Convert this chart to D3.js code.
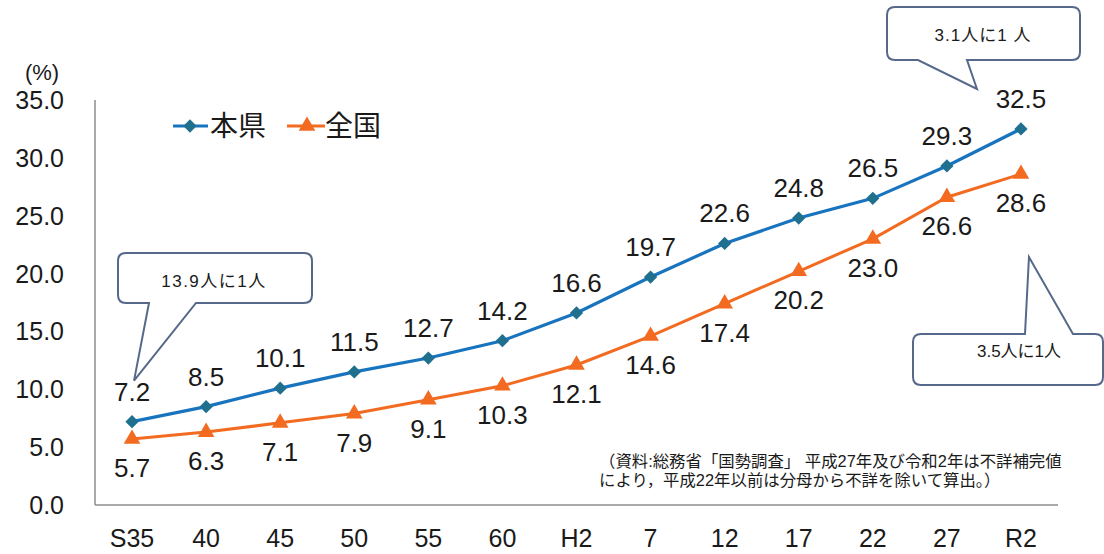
<!DOCTYPE html>
<html>
<head>
<meta charset="utf-8">
<script src="https://cdn.jsdelivr.net/npm/d3@7"></script>
<style>
  body { margin: 0; background: #fff; }
  text { font-family: "Liberation Sans", Arial, "Noto Sans CJK JP", sans-serif; fill: #1a1a1a; }
</style>
</head>
<body>
<script>
// data
var years = ['S35', '40', '45', '50', '55', '60', 'H2', '7', '12', '17', '22', '27', 'R2'];
var kenValues = [7.2, 8.5, 10.1, 11.5, 12.7, 14.2, 16.6, 19.7, 22.6, 24.8, 26.5, 29.3, 32.5];
var zenkokuValues = [5.7, 6.3, 7.1, 7.9, 9.1, 10.3, 12.1, 14.6, 17.4, 20.2, 23.0, 26.6, 28.6];
var yTicks = [0, 5, 10, 15, 20, 25, 30, 35];
var seriesNames = ['本県', '全国'];
var callouts = [
  { text: '13.9人に1人', year: 'S35', value: 7.2 },
  { text: '3.1人に1 人', year: 'R2', value: 32.5 },
  { text: '3.5人に1人', year: 'R2', value: 28.6 }
];
var noteLines = [
  '（資料:総務省「国勢調査」 平成27年及び令和2年は不詳補完値',
  'により，平成22年以前は分母から不詳を除いて算出。）'
];

var width = 1104, height = 554;
var blue = '#1874be', blueMark = '#1f6f8f', orange = '#f26b21';

var svg = d3.select('body').append('svg').attr('width', width).attr('height', height);

var x = d3.scaleBand().domain(years).range([95, 1058]);
var y = d3.scaleLinear().domain([0, 35]).range([505, 100]);
var cx = function (d) { return x(d) + x.bandwidth() / 2; };

// axes lines (no ticks)
svg.append('line').attr('x1', 95).attr('x2', 95).attr('y1', y(35)).attr('y2', y(0))
  .attr('stroke', '#8c8c8c').attr('stroke-width', 1.5);
svg.append('line').attr('x1', 95).attr('x2', 1058).attr('y1', y(0)).attr('y2', y(0))
  .attr('stroke', '#8c8c8c').attr('stroke-width', 1.5);

// y tick labels
svg.selectAll('.ytick').data(yTicks).enter().append('text')
  .attr('class', 'ytick')
  .attr('x', 64).attr('y', function (d) { return y(d) + 9; })
  .attr('text-anchor', 'end').style('font-size', '25px')
  .text(function (d) { return d.toFixed(1); });

svg.append('text').attr('x', 42).attr('y', 80).attr('text-anchor', 'middle')
  .style('font-size', '22px').text('(%)');

// x tick labels
svg.selectAll('.xtick').data(years).enter().append('text')
  .attr('class', 'xtick')
  .attr('x', cx).attr('y', 547)
  .attr('text-anchor', 'middle').style('font-size', '25px')
  .text(function (d) { return d; });

var line = d3.line()
  .x(function (d, i) { return cx(years[i]); })
  .y(function (d) { return y(d); });

// lines
svg.append('path').datum(zenkokuValues).attr('d', line)
  .attr('fill', 'none').attr('stroke', orange).attr('stroke-width', 3);
svg.append('path').datum(kenValues).attr('d', line)
  .attr('fill', 'none').attr('stroke', blue).attr('stroke-width', 3.2);

var diamond = d3.symbol().type(d3.symbolSquare).size(88);
var triangle = d3.symbol().type(d3.symbolTriangle).size(120);

// markers
svg.selectAll('.mk2').data(zenkokuValues).enter().append('path')
  .attr('d', triangle)
  .attr('transform', function (d, i) { return 'translate(' + cx(years[i]) + ',' + y(d) + ')'; })
  .attr('fill', orange);
svg.selectAll('.mk1').data(kenValues).enter().append('path')
  .attr('d', diamond)
  .attr('transform', function (d, i) { return 'translate(' + cx(years[i]) + ',' + y(d) + ') rotate(45)'; })
  .attr('fill', blueMark);

// data labels
svg.selectAll('.lb1').data(kenValues).enter().append('text')
  .attr('x', function (d, i) { return cx(years[i]); })
  .attr('y', function (d) { return y(d) - 21; })
  .attr('text-anchor', 'middle').style('font-size', '26px')
  .text(function (d) { return d.toFixed(1); });
svg.selectAll('.lb2').data(zenkokuValues).enter().append('text')
  .attr('x', function (d, i) { return cx(years[i]); })
  .attr('y', function (d) { return y(d) + 38; })
  .attr('text-anchor', 'middle').style('font-size', '26px')
  .text(function (d) { return d.toFixed(1); });

// legend
var legend = svg.append('g');
legend.append('line').attr('x1', 173).attr('x2', 208).attr('y1', 126).attr('y2', 126)
  .attr('stroke', blue).attr('stroke-width', 3.2);
legend.append('path').attr('d', diamond).attr('transform', 'translate(190,126) rotate(45)').attr('fill', blueMark);
legend.append('text').attr('x', 210).attr('y', 136).style('font-size', '28px')
  .style('font-family', '"Noto Sans CJK JP", sans-serif').text(seriesNames[0]);
legend.append('line').attr('x1', 287).attr('x2', 325).attr('y1', 126).attr('y2', 126)
  .attr('stroke', orange).attr('stroke-width', 3);
legend.append('path').attr('d', triangle).attr('transform', 'translate(307,126)').attr('fill', orange);
legend.append('text').attr('x', 325).attr('y', 136).style('font-size', '28px')
  .style('font-family', '"Noto Sans CJK JP", sans-serif').text(seriesNames[1]);

// callout bubbles: box + pointer (pointer base on bottom or top edge)
function bubble(b) {
  var r = 8, p = d3.path();
  p.moveTo(b.x0 + r, b.y0);
  if (b.side === 'top') { p.lineTo(b.p1, b.y0); p.lineTo(b.tx, b.ty); p.lineTo(b.p2, b.y0); }
  p.lineTo(b.x1 - r, b.y0);
  p.quadraticCurveTo(b.x1, b.y0, b.x1, b.y0 + r);
  p.lineTo(b.x1, b.y1 - r);
  p.quadraticCurveTo(b.x1, b.y1, b.x1 - r, b.y1);
  if (b.side === 'bottom') { p.lineTo(b.p2, b.y1); p.lineTo(b.tx, b.ty); p.lineTo(b.p1, b.y1); }
  p.lineTo(b.x0 + r, b.y1);
  p.quadraticCurveTo(b.x0, b.y1, b.x0, b.y1 - r);
  p.lineTo(b.x0, b.y0 + r);
  p.quadraticCurveTo(b.x0, b.y0, b.x0 + r, b.y0);
  p.closePath();
  return p.toString();
}

var boxes = [
  { x0: 118, y0: 253, x1: 312, y1: 303, side: 'bottom', p1: 149, p2: 196, dx: 2, dy: -41, tx0: 214, ty0: 287, ls: 1.5 },
  { x0: 887, y0: 7, x1: 1080, y1: 60, side: 'bottom', p1: 918, p2: 967, dx: -44, dy: -40, tx0: 983, ty0: 41, ls: 1 },
  { x0: 913, y0: 334, x1: 1103, y1: 385, side: 'top', p1: 1025, p2: 1073, dx: 8, dy: 83, tx0: 1019, ty0: 357, ls: 0 }
];

callouts.forEach(function (c, i) {
  var b = boxes[i];
  b.tx = cx(c.year) + b.dx;
  b.ty = y(c.value) + b.dy;
  svg.append('path').attr('d', bubble(b))
    .attr('fill', '#fff').attr('stroke', '#56698a').attr('stroke-width', 2);
  svg.append('text').attr('x', b.tx0).attr('y', b.ty0)
    .attr('text-anchor', 'middle').style('font-size', '17px')
    .style('letter-spacing', b.ls + 'px')
    .text(c.text);
});

// source note
svg.selectAll('.note').data(noteLines).enter().append('text')
  .attr('x', 599).attr('y', function (d, i) { return 467 + i * 19; })
  .style('font-size', '16.4px')
  .text(function (d) { return d; });
</script>
</body>
</html>
